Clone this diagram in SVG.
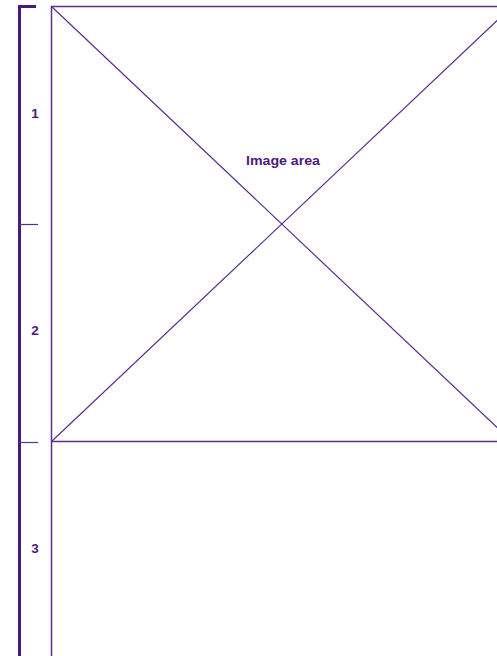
<svg xmlns="http://www.w3.org/2000/svg" width="497" height="656" viewBox="0 0 497 656">
<style>
.br{stroke:#4b1a7d;stroke-width:3;fill:none}
.tk{stroke:#5b2d90;stroke-width:1.2;fill:none}
.ln{stroke:#5b2d90;stroke-width:1.5;fill:none}
.dg{stroke:#5b2d90;stroke-width:1.2;fill:none}
.lb{font-family:"Liberation Sans",Arial,sans-serif;font-weight:bold;fill:#4b1a7d;font-size:13.5px;text-anchor:middle}
</style>
<rect width="497" height="656" fill="#fff"/>
<g id="bracket">
<path class="br" d="M36 6.5H19.5V656"/>
<line class="tk" x1="19" y1="224.5" x2="38" y2="224.5"/>
<line class="tk" x1="19" y1="442.5" x2="38" y2="442.5"/>
<text class="lb" x="35" y="118">1</text>
<text class="lb" x="35" y="335">2</text>
<text class="lb" x="35" y="553">3</text>
</g>
<g id="image-area">
<line class="ln" x1="51" y1="6.5" x2="512" y2="6.5"/>
<line class="ln" x1="51.5" y1="6" x2="51.5" y2="656"/>
<line class="ln" x1="51" y1="441.5" x2="512" y2="441.5"/>
<line class="dg" x1="51.5" y1="6.5" x2="512" y2="441.5"/>
<line class="dg" x1="51.5" y1="441.5" x2="512" y2="6.5"/>
<text class="lb" x="283" y="165" font-size="14.5" textLength="74" lengthAdjust="spacingAndGlyphs">Image area</text>
</g>
</svg>
